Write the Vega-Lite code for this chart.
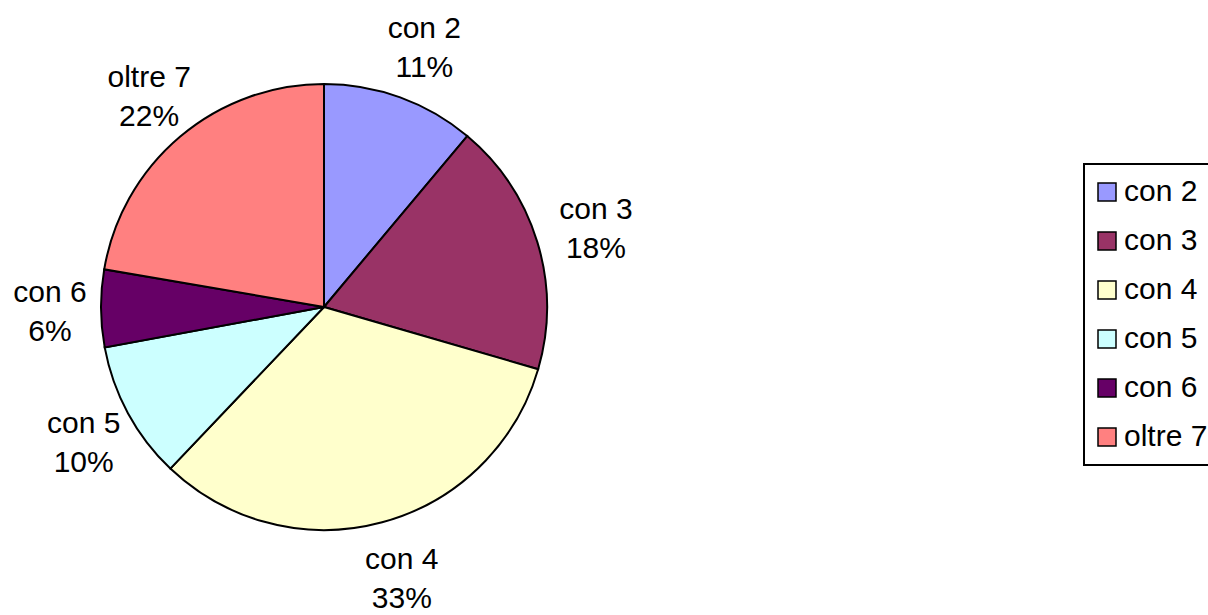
{
  "$schema": "https://vega.github.io/schema/vega-lite/v6.json",
  "width": 648,
  "height": 614,
  "autosize": "none",
  "padding": {"left": 0, "top": 0, "right": 560, "bottom": 1},
  "background": "white",
  "data": {
    "values": [
      {"cat": "con 2", "value": 11.1, "label": "con 2\n11%"},
      {"cat": "con 3", "value": 18.4, "label": "con 3\n18%"},
      {"cat": "con 4", "value": 32.6, "label": "con 4\n33%"},
      {"cat": "con 5", "value": 10.0, "label": "con 5\n10%"},
      {"cat": "con 6", "value": 5.6, "label": "con 6\n6%"},
      {"cat": "oltre 7", "value": 22.3, "label": "oltre 7\n22%"}
    ]
  },
  "encoding": {
    "theta": {"field": "value", "type": "quantitative", "stack": true}
  },
  "layer": [
    {
      "mark": {"type": "arc", "outerRadius": 223, "stroke": "black", "strokeWidth": 2},
      "encoding": {
        "color": {
          "field": "cat",
          "type": "nominal",
          "scale": {
            "domain": ["con 2", "con 3", "con 4", "con 5", "con 6", "oltre 7"],
            "range": ["#9999FF", "#993366", "#FFFFCC", "#CCFFFF", "#660066", "#FF8080"]
          },
          "legend": {
            "orient": "none",
            "legendX": 1084,
            "legendY": 164,
            "title": null,
            "symbolType": "square",
            "symbolSize": 324,
            "symbolStrokeColor": "black",
            "symbolStrokeWidth": 1.5,
            "symbolOffset": -5,
            "labelFontSize": 30,
            "labelFont": "Liberation Sans",
            "labelColor": "black",
            "labelOffset": 2,
            "padding": 13,
            "rowPadding": 19,
            "strokeColor": "black",
            "fillColor": "white",
            "encode": {"legend": {"update": {"strokeWidth": {"value": 2}}}}
          }
        }
      }
    },
    {
      "mark": {
        "type": "text",
        "radius": 279,
        "font": "Liberation Sans",
        "fontSize": 30,
        "lineBreak": "\n",
        "lineHeight": 39,
        "fill": "black",
        "align": "center",
        "baseline": "middle",
        "dx": 5,
        "dy": -16
      },
      "encoding": {
        "text": {"field": "label", "type": "nominal"},
        "detail": {"field": "cat", "type": "nominal"}
      }
    }
  ],
  "config": {"view": {"stroke": null}}
}
